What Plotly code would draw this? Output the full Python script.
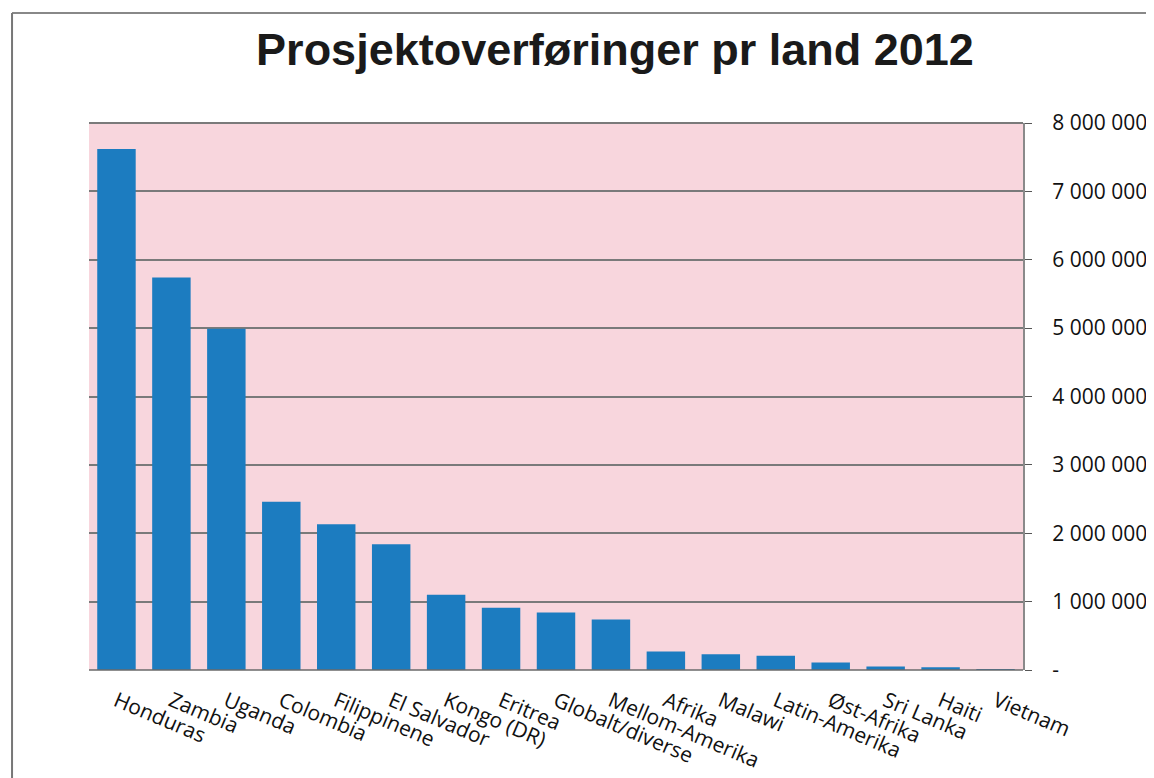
import plotly.graph_objects as go

countries = ["Honduras", "Zambia", "Uganda", "Colombia", "Filippinene", "El Salvador",
             "Kongo (DR)", "Eritrea", "Globalt/diverse", "Mellom-Amerika", "Afrika",
             "Malawi", "Latin-Amerika", "Øst-Afrika", "Sri Lanka", "Haiti", "Vietnam"]
values = [7620000, 5740000, 4990000, 2460000, 2130000, 1840000,
          1100000, 910000, 840000, 740000, 270000,
          230000, 210000, 110000, 50000, 40000, 10000]
tick_vals = [0, 1000000, 2000000, 3000000, 4000000, 5000000, 6000000, 7000000, 8000000]
tick_text = ["-", "1 000 000", "2 000 000", "3 000 000", "4 000 000",
             "5 000 000", "6 000 000", "7 000 000", "8 000 000"]

# page body has an 8px margin, so the figure is placed 8px right and down
fig = go.Figure()
fig.add_trace(go.Bar(x=countries, y=values, marker=dict(color="#1c7cc0", line=dict(width=0))))

fig.update_layout(
    width=1154, height=778,
    margin=dict(l=81, r=139, t=115, b=116),
    paper_bgcolor="white",
    plot_bgcolor="#f8d6dd",
    bargap=0.3,
    showlegend=False,
    title=dict(text="<b>Prosjektoverføringer pr land 2012</b>",
               x=0.526, xanchor="center", y=0.947, yanchor="middle",
               font=dict(family="Liberation Sans, Arial", size=45, color="#1a1a1a")),
    xaxis=dict(tickangle=23, tickfont=dict(family="Open Sans", size=21, color="#111111"),
               showgrid=False, showline=False, ticks="", ticklabelstandoff=14),
    yaxis=dict(side="right", range=[0, 8000000], tickvals=tick_vals, ticktext=tick_text,
               tickfont=dict(family="Open Sans", size=21, color="#111111"),
               showgrid=True, gridcolor="#7a7a7a", gridwidth=2,
               showline=True, linecolor="#8a8a8a", linewidth=2,
               ticks="outside", ticklen=7, tickcolor="#555", ticklabelstandoff=16,
               zeroline=False),
    shapes=[
        dict(type="line", xref="paper", yref="paper", x0=0, x1=1.0, y0=1.0, y1=1.0,
             line=dict(color="#7a7a7a", width=2)),
        dict(type="line", xref="paper", yref="paper", x0=0, x1=1.0, y0=0, y1=0,
             line=dict(color="#6a6a6a", width=1.5)),
        dict(type="line", xref="paper", yref="paper", x0=-0.0824, x1=1.14, y0=1.201, y1=1.201,
             line=dict(color="#888", width=2)),
        dict(type="line", xref="paper", yref="paper", x0=-0.0824, x1=-0.0824, y0=1.201, y1=-0.21,
             line=dict(color="#777", width=2)),
    ],
)

fig.write_html("out.html")
